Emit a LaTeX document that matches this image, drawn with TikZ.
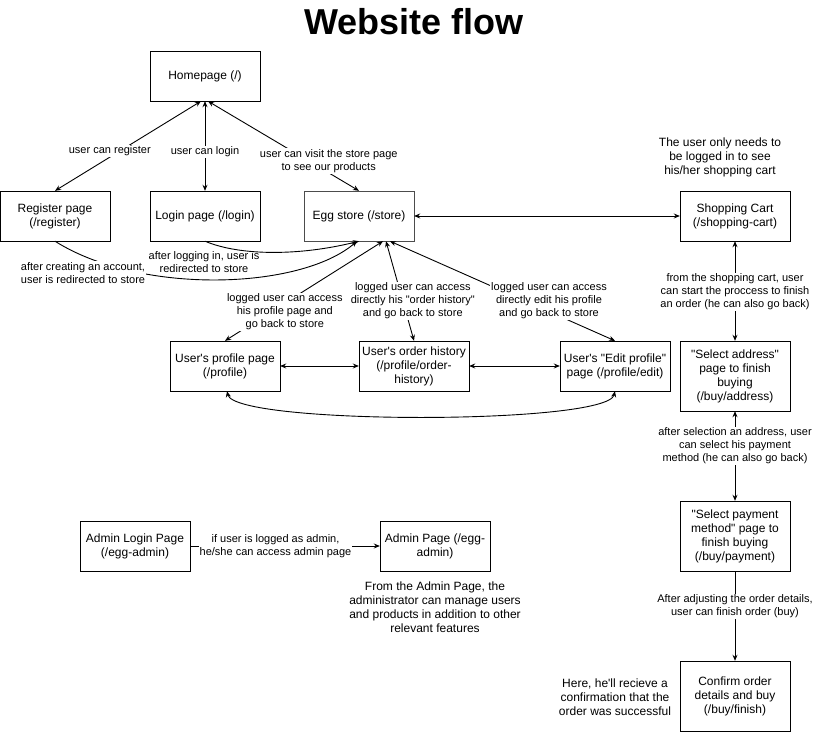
\documentclass[tikz,border=0pt]{standalone}
\usepackage{fontspec}
\setmainfont{Liberation Sans}[Ligatures=TeXOff]
\usetikzlibrary{arrows.meta}
\tikzset{
  page/.style={draw, minimum width=110pt, minimum height=50pt, inner sep=2pt, align=center, font=\fontsize{12}{14}\selectfont},
  tall/.style={page, minimum height=70pt},
  lbl/.style={fill=white, inner sep=1pt, align=center, font=\fontsize{11}{13}\selectfont},
  note/.style={align=center, font=\fontsize{12}{14}\selectfont},
  link/.style={line width=0.9pt, {Stealth[length=6pt,width=5pt]}-{Stealth[length=6pt,width=5pt]}},
  go/.style={line width=0.9pt, -{Stealth[length=6pt,width=5pt]}}
}
\begin{document}
\begin{tikzpicture}[x=1pt,y=-1pt]
\useasboundingbox (0,0) rectangle (814,733);
\node[font=\fontsize{36}{40}\selectfont\bfseries] (title) at (414,22) {Website flow};
% pages
\node[page] (home) at (205,76) {Homepage (/)};
\node[page] (reg) at (55,216) {Register page\\(/register)};
\node[page] (login) at (205,216) {Login page (/login)};
\node[page, draw=black!70] (store) at (359,216) {Egg store (/store)};
\node[page] (cart) at (735,216) {Shopping Cart\\(/shopping-cart)};
\node[page] (profile) at (225,366) {User's profile page\\(/profile)};
\node[page] (history) at (414,366) {User's order history\\(/profile/order-\\history)};
\node[page] (edit) at (615,366) {User's "Edit profile"\\page (/profile/edit)};
\node[tall] (addr) at (735,376) {"Select address"\\page to finish\\buying\\(/buy/address)};
\node[tall] (pay) at (735,536) {"Select payment\\method" page to\\finish buying\\(/buy/payment)};
\node[tall] (confirm) at (735,696) {Confirm order\\details and buy\\(/buy/finish)};
\node[page] (adminlogin) at (135,546) {Admin Login Page\\(/egg-admin)};
\node[page] (admin) at (435,546) {Admin Page (/egg-\\admin)};
% notes
\node[note] (cartnote) at (720,157) {The user only needs to\\be logged in to see\\his/her shopping cart};
\node[note] (adminnote) at (435,607) {From the Admin Page, the\\administrator can manage users\\and products in addition to other\\relevant features};
\node[note] (confirmnote) at (615,697) {Here, he'll recieve a\\confirmation that the\\order was successful};
% from the homepage
\draw[link] ([xshift=-4pt]home.south) -- node[lbl, pos=0.556, xshift=-10pt] {user can register} (reg.north);
\draw[link] (home.south) -- node[lbl, pos=0.567] {user can login} (login.north);
\draw[link] ([xshift=3pt]home.south) -- node[lbl, pos=0.667, xshift=20pt] {user can visit the store page\\to see our products} (store.north);
% redirects to the store
\draw[go] (reg.south) .. controls (140,295) and (300,290) .. ([xshift=-2pt]store.south);
\draw[go] (login.south) .. controls (240,256) and (300,256) .. (store.south);
\node[lbl] (regnote) at (83,273) {after creating an account,\\user is redirected to store};
\node[lbl, fill=none] (loginnote) at (204,262) {after logging in, user is\\redirected to store};
% profile pages
\draw[link] ([xshift=24pt]store.south) -- node[lbl, pos=0.71, xshift=14pt] {logged user can access\\his profile page and\\go back to store} (profile.north);
\draw[link] ([xshift=27pt]store.south) -- node[lbl, pos=0.6, xshift=10pt] {logged user can access\\directly his "order history"\\and go back to store} (history.north);
\draw[link] ([xshift=31pt]store.south) -- node[lbl, pos=0.6, xshift=24pt] {logged user can access\\directly edit his profile\\and go back to store} (edit.north);
\draw[link] (profile.east) -- (history.west);
\draw[link] (history.east) -- (edit.west);
\draw[link] ([xshift=2pt]profile.south) .. controls (235,425) and (607,425) .. (edit.south);
% buying
\draw[link] (store.east) -- (cart.west);
\draw[link] (cart.south) -- node[lbl, pos=0.51] {from the shopping cart, user\\can start the proccess to finish\\an order (he can also go back)} (addr.north);
\draw[link] (addr.south) -- node[lbl, pos=0.39] {after selection an address, user\\can select his payment\\method (he can also go back)} (pay.north);
\draw[go] (pay.south) -- node[lbl, pos=0.39] {After adjusting the order details,\\user can finish order (buy)} (confirm.north);
% admin
\draw[go] (adminlogin.east) -- node[lbl, pos=0.45] {if user is logged as admin,\\he/she can access admin page} (admin.west);
\end{tikzpicture}
\end{document}
